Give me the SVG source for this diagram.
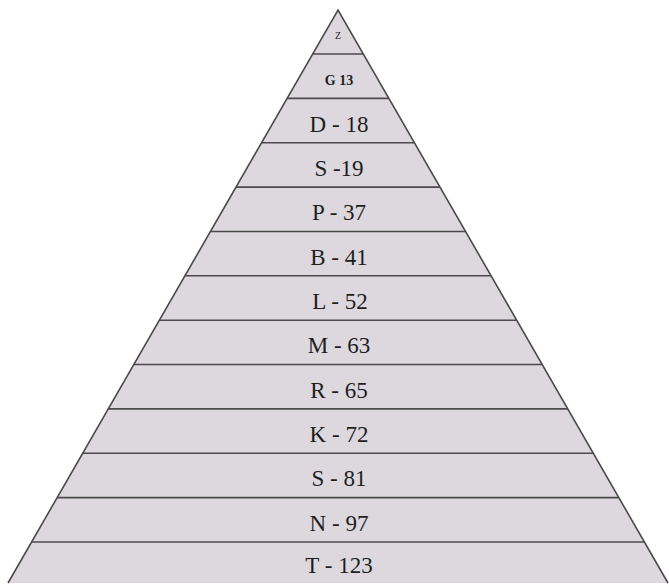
<svg xmlns="http://www.w3.org/2000/svg" width="669" height="584" viewBox="0 0 669 584">
<style>
.band{fill:#dcd8de;stroke:none}
.lbl{font-family:"Liberation Serif","Times New Roman",serif;font-size:23px;fill:#1e1e1e;text-anchor:middle}
.div{stroke:#4a4a4a;stroke-width:1.6;fill:none}
</style>
<rect width="669" height="584" fill="#ffffff"/>
<g id="band-z"><polygon class="band" points="338,10 363.3,54 312.7,54"/><text class="lbl" x="338" y="39" style="font-size:10px">Z</text></g>
<g id="band-g13"><polygon class="band" points="312.7,54 363.3,54 388.9,98.4 287.1,98.4"/><text class="lbl" x="339" y="85" style="font-size:14px;font-weight:bold">G 13</text></g>
<g id="band-d18"><polygon class="band" points="287.1,98.4 388.9,98.4 414.4,142.7 261.6,142.7"/><text class="lbl" x="339" y="132">D - 18</text></g>
<g id="band-s19"><polygon class="band" points="261.6,142.7 414.4,142.7 440,187.1 236,187.1"/><text class="lbl" x="339" y="176">S -19</text></g>
<g id="band-p37"><polygon class="band" points="236,187.1 440,187.1 465.6,231.5 210.4,231.5"/><text class="lbl" x="339" y="220">P - 37</text></g>
<g id="band-b41"><polygon class="band" points="210.4,231.5 465.6,231.5 491.1,275.8 184.9,275.8"/><text class="lbl" x="339" y="265">B - 41</text></g>
<g id="band-l52"><polygon class="band" points="184.9,275.8 491.1,275.8 516.6,320.2 159.4,320.2"/><text class="lbl" x="340" y="309">L - 52</text></g>
<g id="band-m63"><polygon class="band" points="159.4,320.2 516.6,320.2 542.2,364.5 133.8,364.5"/><text class="lbl" x="339" y="353">M - 63</text></g>
<g id="band-r65"><polygon class="band" points="133.8,364.5 542.2,364.5 567.7,408.9 108.3,408.9"/><text class="lbl" x="339" y="398">R - 65</text></g>
<g id="band-k72"><polygon class="band" points="108.3,408.9 567.7,408.9 593.3,453.3 82.7,453.3"/><text class="lbl" x="339" y="442">K - 72</text></g>
<g id="band-s81"><polygon class="band" points="82.7,453.3 593.3,453.3 618.8,497.6 57.2,497.6"/><text class="lbl" x="339" y="486">S - 81</text></g>
<g id="band-n97"><polygon class="band" points="57.2,497.6 618.8,497.6 644.4,542 31.6,542"/><text class="lbl" x="339" y="531">N - 97</text></g>
<g id="band-t123"><polygon class="band" points="31.6,542 644.4,542 668,583 8,583"/><text class="lbl" x="339" y="573">T - 123</text></g>
<g id="connectors">
<polyline class="div" points="8,583 338,10 668,583"/>
<line class="div" x1="312.7" y1="54" x2="363.3" y2="54"/>
<line class="div" x1="287.1" y1="98.4" x2="388.9" y2="98.4"/>
<line class="div" x1="261.6" y1="142.7" x2="414.4" y2="142.7"/>
<line class="div" x1="236" y1="187.1" x2="440" y2="187.1"/>
<line class="div" x1="210.4" y1="231.5" x2="465.6" y2="231.5"/>
<line class="div" x1="184.9" y1="275.8" x2="491.1" y2="275.8"/>
<line class="div" x1="159.4" y1="320.2" x2="516.6" y2="320.2"/>
<line class="div" x1="133.8" y1="364.5" x2="542.2" y2="364.5"/>
<line class="div" x1="108.3" y1="408.9" x2="567.7" y2="408.9"/>
<line class="div" x1="82.7" y1="453.3" x2="593.3" y2="453.3"/>
<line class="div" x1="57.2" y1="497.6" x2="618.8" y2="497.6"/>
<line class="div" x1="31.6" y1="542" x2="644.4" y2="542"/>
</g>
</svg>
